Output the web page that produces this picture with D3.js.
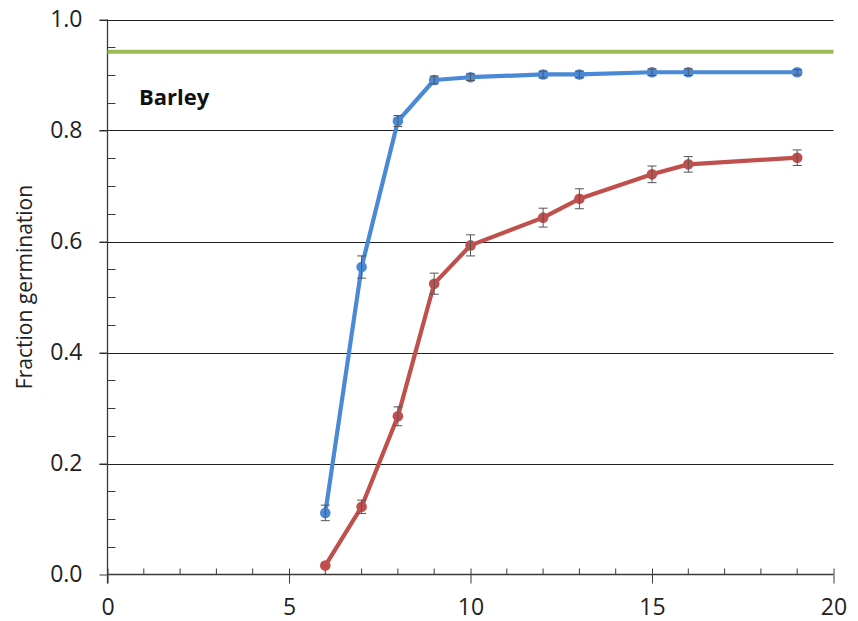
<!DOCTYPE html>
<html><head><meta charset="utf-8">
<script src="https://cdn.jsdelivr.net/npm/d3@7"></script>
<style>body{margin:0;background:#fff}svg{display:block}text{font-family:"Open Sans",Calibri,sans-serif}</style>
</head><body><div id="c"></div>
<script>
const xDays = [6, 7, 8, 9, 10, 12, 13, 15, 16, 19];
const blueVals = [0.111, 0.554, 0.817, 0.891, 0.896, 0.901, 0.901, 0.905, 0.905, 0.905];
const blueErr  = [0.014, 0.020, 0.010, 0.007, 0.006, 0.006, 0.006, 0.006, 0.006, 0.005];
const redVals  = [0.016, 0.122, 0.285, 0.524, 0.593, 0.643, 0.677, 0.721, 0.739, 0.751];
const redErr   = [0.000, 0.012, 0.017, 0.019, 0.019, 0.017, 0.018, 0.015, 0.014, 0.014];
const refLevel = 0.942;
const xTicks = [0, 5, 10, 15, 20];
const yTicks = [0.0, 0.2, 0.4, 0.6, 0.8, 1.0];
const yLabel = "Fraction germination";
const annot = "Barley";

const W = 858, H = 621;
const m = {l:107.5, r:858-833.5, t:19.5, b:621-574.5};
const svg = d3.select("#c").append("svg").attr("width", W).attr("height", H);
const x = d3.scaleLinear().domain([0,20]).range([m.l, W-m.r]);
const y = d3.scaleLinear().domain([0,1]).range([H-m.b, m.t]);
const axisCol = "#3a3a3a";
const tickFont = 23;

// gridlines
svg.append("g").selectAll("line").data(yTicks.filter(d=>d>0)).join("line")
  .attr("x1", x(0)-8).attr("x2", x(20)).attr("y1", d=>Math.round(y(d))+0.5).attr("y2", d=>Math.round(y(d))+0.5)
  .attr("stroke", "#1e1e1e").attr("stroke-width", 1);

// y minor ticks (inside)
const yMinor = d3.range(0, 21).map(i=>i*0.05).filter((d,i)=>i%4!==0);
svg.append("g").selectAll("line").data(yMinor).join("line")
  .attr("x1", x(0)).attr("x2", x(0)+8).attr("y1", d=>Math.round(y(d))+0.5).attr("y2", d=>Math.round(y(d))+0.5)
  .attr("stroke", axisCol);

// y axis
const yAx = svg.append("g").attr("transform", `translate(${x(0)},0)`)
  .call(d3.axisLeft(y).tickValues(yTicks).tickFormat(d3.format(".1f")).tickSize(8).tickPadding(17));
yAx.select(".domain").remove();
yAx.selectAll("line").attr("stroke", axisCol);
yAx.selectAll("text").attr("font-size", tickFont).attr("fill", "#222").attr("font-family", '"Open Sans",sans-serif');
svg.append("line").attr("x1", x(0)).attr("x2", x(0)).attr("y1", y(1)).attr("y2", y(0)+9)
  .attr("stroke", axisCol).attr("stroke-width", 1.3);

// x axis
svg.append("line").attr("x1", x(0)).attr("x2", x(20)).attr("y1", y(0)).attr("y2", y(0))
  .attr("stroke", axisCol).attr("stroke-width", 1.3);
const xMinor = d3.range(1, 20).filter(d=>d%5!==0);
svg.append("g").selectAll("line").data(xMinor).join("line")
  .attr("x1", d=>x(d)).attr("x2", d=>x(d)).attr("y1", y(0)).attr("y2", y(0)-6)
  .attr("stroke", axisCol);
const xAx = svg.append("g").attr("transform", `translate(0,${y(0)})`)
  .call(d3.axisBottom(x).tickValues(xTicks).tickFormat(d3.format("d")).tickSize(9).tickPadding(15));
xAx.select(".domain").remove();
xAx.selectAll("line").attr("stroke", axisCol).attr("y1", -6);
xAx.selectAll("text").attr("font-size", tickFont).attr("fill", "#222").attr("font-family", '"Open Sans",sans-serif');

// reference level
svg.append("line").attr("x1", x(0)).attr("x2", x(20)).attr("y1", y(refLevel)).attr("y2", y(refLevel))
  .attr("stroke", "#9bbb59").attr("stroke-width", 4);

function series(vals, errs, col){
  const data = xDays.map((d,i)=>({x:d, v:vals[i], e:errs[i]}));
  const g = svg.append("g");
  g.append("path").datum(data)
    .attr("d", d3.line().x(d=>x(d.x)).y(d=>y(d.v)))
    .attr("fill","none").attr("stroke", col).attr("stroke-width", 4.2).attr("stroke-linejoin","round");
  g.selectAll("circle").data(data).join("circle")
    .attr("cx", d=>x(d.x)).attr("cy", d=>y(d.v)).attr("r", 5.3).attr("fill", col);
  const eb = g.append("g").attr("stroke", "#555").attr("stroke-width", 1);
  data.filter(d=>d.e>0).forEach(d=>{
    eb.append("line").attr("x1", x(d.x)).attr("x2", x(d.x)).attr("y1", y(d.v-d.e)).attr("y2", y(d.v+d.e));
    [d.v-d.e, d.v+d.e].forEach(v=>eb.append("line").attr("x1", x(d.x)-4.5).attr("x2", x(d.x)+4.5).attr("y1", y(v)).attr("y2", y(v)));
  });
}
series(blueVals, blueErr, "#4a89d6");
series(redVals, redErr, "#c0504d");

// annotation
svg.append("text").attr("x", 139).attr("y", 105).text(annot)
  .attr("font-size", 22).attr("font-weight", "bold").attr("fill", "#111");

// y label
svg.append("text").attr("transform", `translate(32,287) rotate(-90)`)
  .attr("text-anchor", "middle").attr("font-size", 21).attr("fill", "#222").text(yLabel);
</script></body></html>
